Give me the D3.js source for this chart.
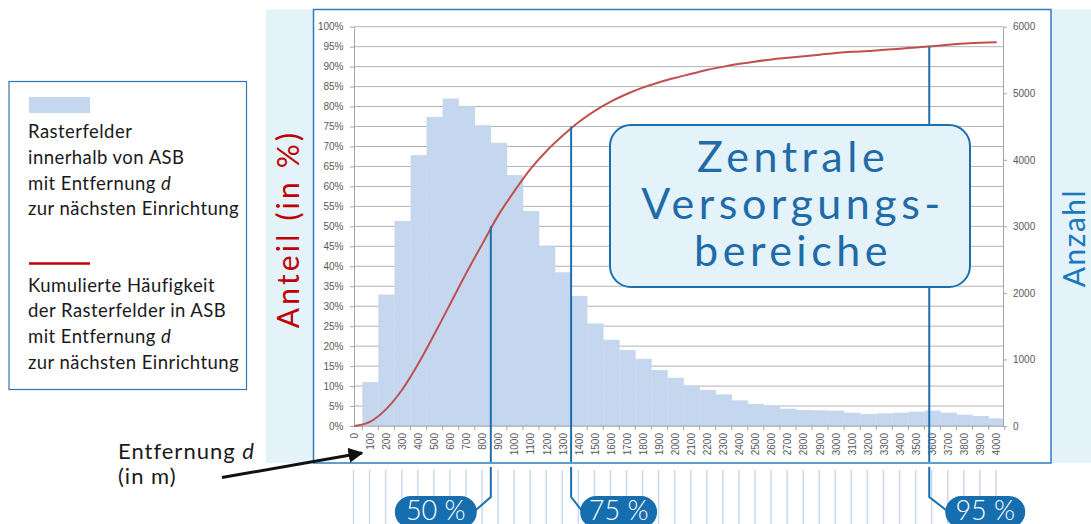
<!DOCTYPE html>
<html>
<head>
<meta charset="utf-8">
<script src="https://cdn.jsdelivr.net/npm/d3@7"></script>
<style>
  body { margin: 0; background: #fff; }
  svg { display: block; }
</style>
</head>
<body>
<svg id="chart"></svg>
<script>
// Entfernung d (in m) - Kategorien der x-Achse
const distances = [0, 100, 200, 300, 400, 500, 600, 700, 800, 900, 1000, 1100, 1200, 1300,
  1400, 1500, 1600, 1700, 1800, 1900, 2000, 2100, 2200, 2300, 2400, 2500, 2600, 2700,
  2800, 2900, 3000, 3100, 3200, 3300, 3400, 3500, 3600, 3700, 3800, 3900, 4000];

// Anzahl Rasterfelder (rechte Achse)
const counts = [0, 660, 1975, 3080, 4070, 4645, 4920, 4805, 4520, 4255, 3770, 3230, 2710, 2310,
  1955, 1540, 1295, 1140, 1010, 840, 725, 605, 540, 475, 385, 330, 300, 260,
  240, 235, 230, 200, 180, 190, 200, 215, 230, 200, 170, 150, 115];

// Kumulierte Häufigkeit in % (linke Achse)
const cumulative = [0, 1.1, 4.3, 9.2, 15.7, 23.1, 30.8, 38.5, 45.8, 53, 59, 64.5, 69, 72.8,
  76.2, 79, 81.3, 83.2, 84.8, 86.1, 87.2, 88.2, 89.2, 90, 90.7, 91.3, 91.8, 92.2,
  92.6, 93, 93.4, 93.7, 93.9, 94.2, 94.5, 94.8, 95.1, 95.5, 95.8, 96, 96.1];

const pctTicks = [0, 5, 10, 15, 20, 25, 30, 35, 40, 45, 50, 55, 60, 65, 70, 75, 80, 85, 90, 95, 100];
const countTicks = [0, 1000, 2000, 3000, 4000, 5000, 6000];

// Markierungen (Entfernung bei 50 / 75 / 95 %)
const markerDist = [850, 1350, 3580];
const markerPct = [50, 75, 95];
const markerLabels = ["50 %", "75 %", "95 %"];

const legendBars = ["Rasterfelder", "innerhalb von ASB", "mit Entfernung |d|", "zur nächsten Einrichtung"];
const legendLine = ["Kumulierte Häufigkeit", "der Rasterfelder in ASB", "mit Entfernung |d|", "zur nächsten Einrichtung"];
const boxLines = ["Zentrale", "Versorgungs-", "bereiche"];

const width = 1091, height = 524;
const plot = { left: 354, right: 1003, top: 26.7, bottom: 426 };
const frameBottom = 463;

const svg = d3.select("#chart").attr("width", width).attr("height", height);

const x = d3.scaleLinear().domain([0, 4000]).range([354.3, 996.7]);
const step = x(100) - x(0);
const yPct = d3.scaleLinear().domain([0, 100]).range([plot.bottom, plot.top]);
const yCount = d3.scaleLinear().domain([0, 6000]).range([plot.bottom, plot.top]);

const blue = "#1c6fae";
const lato = "Lato, 'Open Sans', sans-serif";

// Hintergrund-Panel und Diagrammrahmen
svg.append("rect").attr("x", 266).attr("y", 9.5).attr("width", width - 266).attr("height", frameBottom - 9.5)
  .attr("fill", "#e4f3f9");
svg.append("rect").attr("x", 313.5).attr("y", 9.5).attr("width", 737.5).attr("height", frameBottom - 9.5)
  .attr("fill", "#fff").attr("stroke", "#2e7cc0").attr("stroke-width", 1.5);

// Gitterlinien
svg.append("g").selectAll("line").data(pctTicks).enter().append("line")
  .attr("x1", plot.left).attr("x2", plot.right)
  .attr("y1", d => yPct(d)).attr("y2", d => yPct(d))
  .attr("stroke", "#b3b3b3").attr("stroke-width", 1);

// Balken
svg.append("clipPath").attr("id", "plotclip").append("rect")
  .attr("x", plot.left).attr("y", 0).attr("width", plot.right - plot.left).attr("height", plot.bottom);

svg.append("g").attr("clip-path", "url(#plotclip)")
  .selectAll("rect").data(distances.map((d, i) => ({ d, v: counts[i] }))).enter().append("rect")
  .attr("x", d => x(d.d) - step / 2)
  .attr("width", step + 0.3)
  .attr("y", d => yCount(d.v))
  .attr("height", d => plot.bottom - yCount(d.v))
  .attr("fill", "#c5d7ee");

// Achsen
const axisStyle = g => {
  g.select(".domain").attr("stroke", "#a6a6a6");
  g.selectAll(".tick line").attr("stroke", "#a6a6a6");
  g.selectAll("text").attr("fill", "#595959")
    .style("font-family", "'Liberation Sans', Arial, sans-serif").style("font-size", "10px");
};

svg.append("g").attr("transform", `translate(${plot.left},0)`)
  .call(d3.axisLeft(yPct).tickValues(pctTicks).tickFormat(d => d + "%").tickSize(4).tickPadding(6.5).tickSizeOuter(0))
  .call(axisStyle);

svg.append("g").attr("transform", `translate(${plot.right},0)`)
  .call(d3.axisRight(yCount).tickValues(countTicks).tickFormat(d3.format("d")).tickSize(4).tickPadding(6).tickSizeOuter(0))
  .call(axisStyle);

const xAxisG = svg.append("g").attr("transform", `translate(0,${plot.bottom})`);
xAxisG.append("line").attr("x1", plot.left).attr("x2", plot.right)
  .attr("stroke", "#a6a6a6");
xAxisG.selectAll(".xt").data(distances).enter().append("line")
  .attr("x1", d => x(d) + step / 2).attr("x2", d => x(d) + step / 2)
  .attr("y1", 0).attr("y2", 4).attr("stroke", "#a6a6a6");
xAxisG.selectAll("text").data(distances).enter().append("text")
  .attr("transform", d => `translate(${x(d)},0) rotate(-90)`)
  .attr("x", -7).attr("dy", "0.35em")
  .attr("text-anchor", "end")
  .attr("fill", "#595959")
  .style("font-family", "'Liberation Sans', Arial, sans-serif").style("font-size", "10px")
  .text(d => d);

// Kumulierte Linie
const line = d3.line()
  .x((d, i) => x(distances[i]))
  .y(d => yPct(d))
  .curve(d3.curveMonotoneX);

svg.append("path").datum(cumulative)
  .attr("fill", "none").attr("stroke", "#c0504d").attr("stroke-width", 2).attr("d", line);

// Senkrechte Markierungslinien
svg.append("g").selectAll("line").data(markerDist).enter().append("line")
  .attr("x1", d => x(d)).attr("x2", d => x(d))
  .attr("y1", (d, i) => yPct(markerPct[i])).attr("y2", frameBottom - 1)
  .attr("stroke", blue).attr("stroke-width", 2);

// Textbox "Zentrale Versorgungsbereiche"
svg.append("rect").attr("x", 610).attr("y", 125).attr("width", 360).attr("height", 162).attr("rx", 21)
  .attr("fill", "#e4f2f9").attr("stroke", blue).attr("stroke-width", 2);
svg.append("g").selectAll("text").data(boxLines).enter().append("text")
  .attr("x", 793).attr("y", (d, i) => 171.5 + i * 47)
  .attr("text-anchor", "middle")
  .attr("fill", "#1f6ba7")
  .style("font-family", lato).style("font-size", "43px")
  .style("letter-spacing", "4.5px")
  .text(d => d);

// Achsentitel
svg.append("text").attr("transform", "translate(299,229) rotate(-90)")
  .attr("text-anchor", "middle").attr("fill", "#c00000")
  .style("font-family", lato).style("font-size", "30px").style("letter-spacing", "3.2px")
  .text("Anteil (in %)");
svg.append("text").attr("transform", "translate(1085,238) rotate(-90)")
  .attr("text-anchor", "middle").attr("fill", "#1a78bd")
  .style("font-family", lato).style("font-size", "30px").style("letter-spacing", "1.5px")
  .text("Anzahl");

// Legende
svg.append("rect").attr("x", 9).attr("y", 81.5).attr("width", 237.5).attr("height", 308)
  .attr("fill", "#fff").attr("stroke", "#2e75b6").attr("stroke-width", 1.2);
svg.append("rect").attr("x", 29).attr("y", 97).attr("width", 61).attr("height", 16).attr("fill", "#c5d7ee");
svg.append("line").attr("x1", 29).attr("x2", 90).attr("y1", 263.5).attr("y2", 263.5)
  .attr("stroke", "#c00000").attr("stroke-width", 2.5);

const legendText = (lines, y0) => {
  const t = svg.append("g").selectAll("text").data(lines).enter().append("text")
    .attr("x", 28).attr("y", (d, i) => y0 + i * 25.6)
    .attr("fill", "#1a1a1a")
    .style("font-family", lato).style("font-size", "18.5px").style("letter-spacing", "0.45px");
  t.each(function (d) {
    const parts = d.split("|");
    const el = d3.select(this);
    el.append("tspan").text(parts[0]);
    if (parts.length > 1) el.append("tspan").style("font-style", "italic").text(parts[1]);
  });
};
legendText(legendBars, 138.3);
legendText(legendLine, 291.7);

// Beschriftung "Entfernung d (in m)" mit Pfeil
const xTitle = svg.append("text").attr("x", 118).attr("y", 459)
  .attr("fill", "#1a1a1a")
  .style("font-family", lato).style("font-size", "22px").style("letter-spacing", "1px");
xTitle.append("tspan").text("Entfernung ");
xTitle.append("tspan").style("font-style", "italic").text("d");
svg.append("text").attr("x", 118).attr("y", 483.5)
  .attr("fill", "#1a1a1a")
  .style("font-family", lato).style("font-size", "22px").style("letter-spacing", "1px")
  .text("(in m)");

svg.append("defs").append("marker").attr("id", "arrow")
  .attr("viewBox", "0 0 10 10").attr("refX", 9).attr("refY", 5)
  .attr("markerWidth", 5).attr("markerHeight", 5).attr("orient", "auto")
  .append("path").attr("d", "M0,0 L10,5 L0,10 z").attr("fill", "#111");
svg.append("line").attr("x1", 222).attr("y1", 477.5).attr("x2", 362).attr("y2", 453)
  .attr("stroke", "#111").attr("stroke-width", 3).attr("marker-end", "url(#arrow)");

// Unterer Streifen mit Kategorielinien
svg.append("g").selectAll("line").data(distances).enter().append("line")
  .attr("x1", d => x(d) - 0.8).attr("x2", d => x(d) - 0.8)
  .attr("y1", 470).attr("y2", height)
  .attr("stroke", "#c9daef").attr("stroke-width", 1.5);

// Verbinder und Pillen
const pillW = [82, 77, 80];
const pillSide = [-1, 1, 1];
const pillGap = [14, 9, 16];
markerDist.forEach((d, i) => {
  const mx = x(d);
  const px = pillSide[i] < 0 ? mx - pillGap[i] - pillW[i] : mx + pillGap[i];
  const edge = pillSide[i] < 0 ? px + pillW[i] : px;
  svg.append("path")
    .attr("d", `M${mx},467 L${mx},497 L${edge + pillSide[i] * 2},511`)
    .attr("fill", "none").attr("stroke", blue).attr("stroke-width", 2);
  svg.append("rect").attr("x", px).attr("y", 496).attr("width", pillW[i]).attr("height", 32).attr("rx", 16)
    .attr("fill", "#166eae");
  svg.append("text").attr("x", px + pillW[i] / 2).attr("y", 519.5)
    .attr("text-anchor", "middle").attr("fill", "#fff")
    .style("font-family", lato).style("font-weight", 300).style("font-size", "27px")
    .text(markerLabels[i]);
});
</script>
</body>
</html>
